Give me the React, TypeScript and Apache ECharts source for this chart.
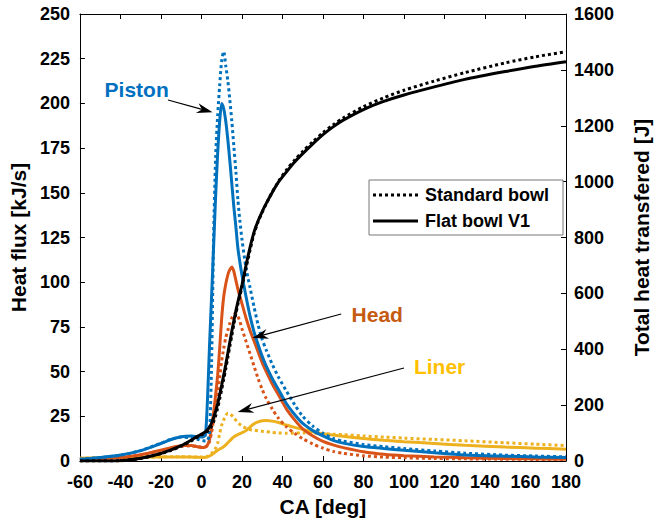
import React, { useEffect, useRef } from "react";
import * as echarts from "echarts";

// Crank angle grid [deg]
const caDeg = [
  -60, -50, -40, -30, -20, -15, -10, -5, -2, 0,
  1, 2, 3, 4, 5, 6, 7, 8, 9, 10,
  11, 12, 13, 14, 15, 16, 17, 18, 19, 20,
  22, 24, 26, 28, 30, 32, 35, 38,
  42, 46, 50, 55, 60, 65, 70,
  80, 90, 100, 115, 130, 150, 165, 180,
];

// Heat flux [kJ/s]
const pistonStandard = [
  1.0, 1.9, 3.2, 5.8, 10.0, 12.2, 13.4, 13.0, 12.2, 11.5,
  11.3, 11.2, 11.5, 15, 55, 125, 170, 193, 210, 224,
  229, 221, 213, 202, 190, 176, 162, 146, 134, 124,
  108, 97, 86, 76, 68, 62, 54, 47,
  39, 31.5, 25, 19.5, 15.5, 12.6, 11.1,
  9.2, 8.0, 7.0, 5.6, 4.4, 3.3, 2.8, 2.3,
];
const pistonFlat = [
  1.0, 2.0, 3.3, 5.8, 9.8, 12.0, 13.6, 14.0, 13.6, 13.4,
  13.6, 14.5, 35, 65, 92, 120, 148, 172, 190, 200,
  197, 190, 180, 168, 155, 142, 131, 119, 111, 104,
  92, 81, 72, 65, 58.5, 53, 46, 40,
  32, 26, 21, 17, 14, 11.5, 10,
  8.1, 7.0, 6.0, 4.6, 3.4, 2.7, 2.3, 2.0,
];
const headStandard = [
  0.8, 1.2, 1.9, 3.3, 5.8, 7.2, 8.2, 8.5, 8.0, 7.8,
  7.8, 8.0, 8.5, 11, 16, 23, 30, 38, 47, 56,
  63, 69, 73, 77, 80, 82, 82.6, 81, 78, 74,
  67, 60, 53, 46, 40, 35, 29, 24,
  19, 15.5, 12.5, 9.5, 7.2, 5.4, 4.3,
  2.9, 2.2, 1.8, 1.4, 1.2, 1.0, 0.9, 0.8,
];
const headFlat = [
  0.8, 1.3, 2.0, 3.5, 6.0, 7.5, 8.6, 8.7, 8.0, 7.6,
  7.5, 7.8, 9, 12, 19, 27, 37, 48, 63, 80,
  92, 99, 104, 107, 108.5, 106, 101, 96, 92, 88,
  80, 73, 67, 61, 55, 50, 43, 37,
  29, 23, 18, 14, 11, 9, 7.5,
  5.2, 3.8, 3.0, 2.3, 1.8, 1.4, 1.2, 1.0,
];
const linerStandard = [
  1.5, 1.8, 2.0, 2.2, 2.3, 2.4, 2.4, 2.3, 2.2, 2.2,
  2.2, 2.3, 2.6, 3.2, 4.2, 5.6, 7.2, 10, 15.5, 20,
  23, 25.5, 26.7, 26.5, 25.5, 24.2, 22.8, 21.5, 20.5, 19.6,
  18.4, 17.6, 17.2, 16.9, 16.6, 16.4, 16.0, 15.7,
  15.5, 15.6, 15.7, 15.5, 15.3, 15.0, 14.7,
  14.0, 13.4, 12.8, 12.1, 11.3, 10.2, 9.4, 8.6,
];
const linerFlat = [
  1.5, 1.8, 2.0, 2.2, 2.3, 2.3, 2.3, 2.2, 2.1, 2.0,
  2.0, 2.1, 2.3, 2.8, 3.5, 4.3, 5.2, 6.0, 6.7, 7.3,
  8.0, 9.0, 10.2, 11.3, 12.5, 13.5, 14.2, 14.8, 15.3, 15.8,
  17.0, 19.0, 20.8, 21.9, 22.5, 22.7, 22.3, 21.5,
  20.1, 18.8, 17.6, 16.4, 15.3, 14.5, 13.8,
  12.6, 11.6, 10.8, 9.8, 8.8, 7.8, 7.2, 6.6,
];

// Total heat transferred [J]
const totalStandard = [
  0, 0, 1, 9, 26, 38, 53, 72, 85, 93,
  97, 101, 106, 113, 124, 140, 162, 190, 222, 257,
  293, 330, 370, 410, 450, 490, 527, 562, 592, 622,
  690, 755, 815, 857, 890, 921, 963, 1000,
  1042, 1077, 1108, 1143, 1175, 1203, 1228,
  1268, 1300, 1327, 1360, 1390, 1425, 1447, 1465,
];
const totalFlat = [
  0, 0, 1, 10, 27, 40, 55, 75, 88, 96,
  100, 105, 112, 122, 136, 155, 178, 205, 238, 272,
  308, 345, 385, 425, 465, 502, 538, 570, 600, 630,
  700, 765, 820, 860, 893, 922, 962, 998,
  1035, 1070, 1100, 1135, 1168, 1196, 1220,
  1258, 1287, 1310, 1339, 1366, 1394, 1413, 1429,
];

// Annotations in data coordinates (CA, heat flux)
const annotationLabels = ["Piston", "Head", "Liner"];
const annotationColors = ["#0070C0", "#C55A11", "#FFC000"];
const annotationTextPos = [[-32, 208], [86.8, 81.7], [117.6, 52.6]];
const annotationArrowFrom = [[-16.5, 201.9], [69, 82.2], [100, 52]];
const annotationArrowTo = [[5.5, 195], [25.1, 68.8], [17.9, 27.4]];

const FONT = "'Liberation Sans', Arial, Helvetica, sans-serif";
const BLUE = "#0072BD";
const ORANGE = "#D95319";
const YELLOW = "#EDB120";
const DOT: number[] = [3, 3];

const pairs = (ys: number[]) => caDeg.map((x, i) => [x, ys[i]]);

function lineSeries(name: string, ys: number[], color: string, dotted: boolean, yAxisIndex = 0, width = 3) {
  return {
    type: "line",
    name,
    data: pairs(ys),
    yAxisIndex,
    xAxisIndex: 0,
    symbol: "none",
    showSymbol: false,
    smooth: 0.25,
    color,
    lineStyle: { color, width, type: dotted ? DOT : "solid", cap: "butt" },
    emphasis: { disabled: true },
  };
}

// legend icons: a row of small squares (dotted) and a bar (solid)
const dottedIcon = "path://" + Array.from({ length: 8 }, (_, k) => `M${k * 6} 0h3v3h-3z`).join(" ");
const solidIcon = "path://M0 0h47v3h-47z";

export default function App() {
  const ref = useRef<HTMLDivElement>(null);

  useEffect(() => {
    document.body.style.margin = "0";
    if (!ref.current) return;
    const chart = echarts.init(ref.current, null, { renderer: "svg" });

    const axisCommon = {
      axisLine: { show: true, onZero: false, lineStyle: { color: "#000", width: 1 } },
      axisTick: { show: true, inside: true, length: 5, lineStyle: { color: "#000", width: 1 } },
      splitLine: { show: false },
    };
    const labelStyle = { fontSize: 18, fontWeight: "bold", color: "#000", fontFamily: FONT };
    const nameStyle = { fontSize: 21, fontWeight: "bold", color: "#000", fontFamily: FONT };

    const option: any = {
      animation: false,
      backgroundColor: "#fff",
      textStyle: { fontFamily: FONT },
      grid: { left: 77, right: 81, top: 14, bottom: 61, containLabel: false },
      legend: {
        data: [
          { name: "Standard bowl", icon: dottedIcon },
          { name: "Flat bowl V1", icon: solidIcon },
        ],
        orient: "vertical",
        left: 369,
        top: 180,
        padding: [6, 14, 5, 4],
        itemWidth: 45,
        itemHeight: 3,
        itemGap: 8,
        borderColor: "#777",
        borderWidth: 1,
        backgroundColor: "#fff",
        selectedMode: false,
        textStyle: { fontSize: 18, fontWeight: "bold", color: "#000", fontFamily: FONT, padding: [0, 0, 0, 2] },
      },
      xAxis: [
        {
          type: "value", min: -60, max: 180, interval: 20, position: "bottom",
          name: "CA [deg]", nameLocation: "middle", nameGap: 35, nameTextStyle: nameStyle,
          ...axisCommon,
          axisLabel: { ...labelStyle, margin: 12 },
        },
        {
          type: "value", min: -60, max: 180, interval: 20, position: "top",
          ...axisCommon,
          axisLabel: { show: false },
        },
      ],
      yAxis: [
        {
          type: "value", min: 0, max: 250, interval: 25, position: "left",
          name: "Heat flux [kJ/s]", nameLocation: "middle", nameRotate: 90, nameGap: 47,
          nameTextStyle: nameStyle,
          ...axisCommon,
          axisLabel: { ...labelStyle, margin: 10 },
        },
        {
          type: "value", min: 0, max: 1600, interval: 200, position: "right",
          name: "Total heat transfered [J]", nameLocation: "middle", nameRotate: 90, nameGap: 65,
          nameTextStyle: nameStyle,
          ...axisCommon,
          axisLabel: { ...labelStyle, margin: 8, formatter: (v: number) => String(v) },
        },
      ],
      series: [
        lineSeries("Liner (Standard bowl)", linerStandard, YELLOW, true),
        lineSeries("Liner (Flat bowl V1)", linerFlat, YELLOW, false),
        lineSeries("Head (Standard bowl)", headStandard, ORANGE, true),
        lineSeries("Head (Flat bowl V1)", headFlat, ORANGE, false),
        lineSeries("Piston (Standard bowl)", pistonStandard, BLUE, true),
        lineSeries("Piston (Flat bowl V1)", pistonFlat, BLUE, false),
        lineSeries("Standard bowl", totalStandard, "#000", true, 1, 3),
        lineSeries("Flat bowl V1", totalFlat, "#000", false, 1, 3),
      ],
    };
    chart.setOption(option);

    const toPx = (p: number[]) =>
      chart.convertToPixel({ xAxisIndex: 0, yAxisIndex: 0 }, p) as number[];

    const elements: any[] = [];
    annotationLabels.forEach((label, i) => {
      const tp = toPx(annotationTextPos[i]);
      elements.push({
        type: "text",
        x: tp[0],
        y: tp[1],
        z: 100,
        style: {
          text: label,
          fill: annotationColors[i],
          font: `bold 21px ${FONT}`,
          align: "center",
          verticalAlign: "middle",
        },
      });
      const s = toPx(annotationArrowFrom[i]);
      const t = toPx(annotationArrowTo[i]);
      const dx = t[0] - s[0];
      const dy = t[1] - s[1];
      const len = Math.hypot(dx, dy);
      const ux = dx / len;
      const uy = dy / len;
      const nx = -uy;
      const ny = ux;
      const L = 16;
      const W = 5;
      const notch = 11;
      elements.push({
        type: "line",
        z: 100,
        shape: { x1: s[0], y1: s[1], x2: t[0] - notch * ux, y2: t[1] - notch * uy },
        style: { stroke: "#000", lineWidth: 1.2 },
      });
      elements.push({
        type: "polygon",
        z: 100,
        shape: {
          points: [
            [t[0], t[1]],
            [t[0] - L * ux + W * nx, t[1] - L * uy + W * ny],
            [t[0] - notch * ux, t[1] - notch * uy],
            [t[0] - L * ux - W * nx, t[1] - L * uy - W * ny],
          ],
        },
        style: { fill: "#000" },
      });
    });
    chart.setOption({ graphic: elements });

    return () => chart.dispose();
  }, []);

  return (
    <div
      ref={ref}
      style={{ position: "fixed", left: 0, top: 0, width: 660, height: 522, background: "#fff" }}
    />
  );
}
